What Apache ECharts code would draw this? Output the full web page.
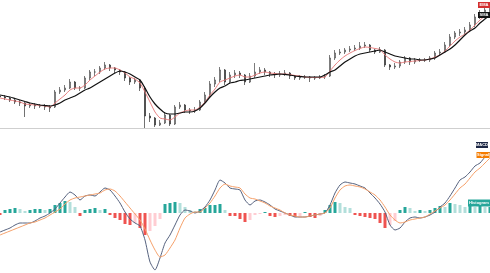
<!DOCTYPE html>
<html><head><meta charset="utf-8">
<script src="https://cdn.jsdelivr.net/npm/echarts@6/dist/echarts.min.js"></script>
<style>html,body{margin:0;padding:0;background:#fff}#c{width:490px;height:273px}</style>
</head><body><div id="c"></div>
<script>
const categories = ["1","2","3","4","5","6","7","8","9","10","11","12","13","14","15","16","17","18","19","20","21","22","23","24","25","26","27","28","29","30","31","32","33","34","35","36","37","38","39","40","41","42","43","44","45","46","47","48","49","50","51","52","53","54","55","56","57","58","59","60","61","62","63","64","65","66","67","68","69","70","71","72","73","74","75","76","77","78","79","80","81","82","83","84","85","86","87","88","89","90","91","92","93","94","95","96","97","98","99"];

// [open, close, low, high]
const candles = [
[132,131,129,134],[131,130,128,133],[130,128,126,131],[128,126,124,129],[126,125,122,128],
[125,122,111,126],[122,123,120,125],[123,122,119,125],[122,122,120,124],[122,121,118,124],
[121,120,116,123],[121,136,120,138],[136,138,134,141],[138,140,136,143],[140,146,139,149],
[146,140,138,147],[140,140,137,142],[140,150,139,152],[150,156,148,158],[156,156,152,159],
[156,160,154,162],[160,163,158,166],[163,160,157,164],[160,158,155,161],[158,156,153,159],
[156,150,147,157],[150,146,143,151],[146,148,144,150],[148,140,137,149],[140,112,100,142],
[112,110,106,115],[110,103,101,111],[103,105,102,108],[105,113,104,116],[113,104,102,114],
[104,121,103,123],[121,123,119,126],[123,118,115,124],[118,117,114,120],[117,118,115,121],
[118,126,117,128],[126,133,124,136],[133,144,131,147],[144,148,141,151],[148,158,146,161],
[158,146,143,159],[146,153,144,156],[153,155,150,158],[155,153,150,157],[153,146,143,154],
[146,152,145,155],[152,156,150,165],[156,158,154,161],[158,156,153,160],[156,154,151,157],
[154,153,150,156],[153,154,151,157],[154,155,152,158],[155,152,149,156],[152,150,148,153],
[150,151,148,153],[151,151,149,153],[151,150,146,152],[150,150,148,152],[150,151,149,153],
[151,152,149,154],[152,170,151,173],[170,175,168,178],[175,176,173,179],[176,178,174,180],
[178,179,176,182],[179,180,177,183],[180,182,178,186],[182,183,180,186],[183,178,176,184],
[178,176,174,179],[176,178,175,181],[178,163,161,179],[163,161,158,164],[161,162,159,165],
[162,166,160,168],[166,170,164,172],[170,166,163,171],[166,168,164,170],[168,168,166,170],
[168,168,166,170],[168,170,166,172],[170,175,168,177],[175,176,173,179],[176,183,175,186],
[183,191,181,194],[191,195,189,197],[195,196,192,199],[196,198,194,201],[198,203,196,206],
[203,211,201,214],[211,215,209,218],[215,218,213,221],[218,221,216,224]
];

const fastMA = [
130,129,128,127,126,124,123.5,123,122.5,122,
121,125,129,133,138,140,140,143,148,152,
156,159,160,160,158,155,151,149,145,136,
126,116,110,109,108,111,115,117,118,118,
121,126,133,139,146,148,150,152,153,151,
151,153,155,156,155,154.5,154,154,153.5,152.5,
152,151,150.5,150.5,150.5,151,157,163,168,172,
175,177.5,179.5,181,180.5,179.5,178.5,173,169,166,
165,166,166.5,167,167.5,168,169,171,173,177,
182,187,191,194,198,203,208,212,216
];

const slowMA = [
133,132,131,129.5,128,126.5,125,124,123,122.5,
122,123,125,128,130,132,135,138,140,143,
146,149,152,155,157,156,154,151,148,140,
131,124,119,115,114,114,115,116,116,117,
120,125,131,136,140,142,145,146,147.5,148,
149,150,151,152,153,153.5,154,153.5,153,152,
151.5,151,151,151,151,153,156,158,162,166,
169,172,174,175,176,177,178,176,174,172,
171,170,169,169,168,168,169,170,173,176,
179,183,188,193,197,200,205,209,213
];

const macdLine = [
-1.9,-1.7,-1.5,-1.2,-1.0,-1.0,-1.0,-0.8,-0.5,-0.3,
0.0,0.4,1.0,1.6,2.1,1.8,1.3,1.7,1.8,1.7,
2.1,2.5,2.3,1.7,1.0,0.1,-0.6,-1.0,-1.3,-2.7,
-4.9,-5.7,-4.5,-3.0,-2.2,-1.2,-0.2,0.3,0.2,0.0,
0.2,0.6,1.3,2.3,3.3,3.0,2.5,2.4,2.3,1.3,
0.8,1.2,1.3,1.1,0.8,0.4,0.2,0.0,-0.2,-0.4,
-0.4,-0.4,-0.3,-0.2,-0.1,0.0,0.8,2.0,2.8,3.1,
3.0,2.9,2.7,2.5,2.0,1.5,0.9,0.1,-1.2,-1.7,
-1.5,-0.9,-0.5,-0.4,-0.5,-0.4,-0.2,0.1,0.6,1.0,
1.7,2.5,3.3,3.6,4.1,4.7,5.0,5.6,6.1
];

const signalLine = [
-2.2,-2.0,-1.8,-1.6,-1.4,-1.2,-1.0,-0.9,-0.7,-0.5,
-0.2,0.1,0.4,0.9,1.3,1.5,1.6,1.7,1.8,1.9,
2.0,2.3,2.4,2.2,1.7,1.1,0.5,-0.1,-0.7,-1.6,
-2.7,-3.7,-4.4,-4.2,-3.5,-2.7,-1.5,-0.5,-0.1,0.1,
0.1,0.5,1.0,1.7,2.5,2.9,2.7,2.6,2.5,1.9,
1.5,1.4,1.2,1.0,0.7,0.5,0.3,0.0,-0.2,-0.3,
-0.4,-0.4,-0.3,-0.2,-0.1,0.0,0.5,1.5,2.3,2.7,
2.8,2.7,2.6,2.4,2.1,1.8,1.3,0.6,-0.2,-0.7,
-1.0,-0.9,-0.7,-0.6,-0.5,-0.4,-0.1,0.2,0.5,0.8,
1.3,1.9,2.5,2.9,3.5,4.1,4.5,5.0,5.5
];

const histogram = [
-0.2,0.3,0.4,0.5,0.4,0.2,0.3,0.4,0.4,0.3,
0.4,0.8,1.0,1.2,1.1,0.6,-0.3,0.3,0.4,0.5,
0.3,0.4,-0.2,-0.5,-0.7,-1.1,-1.2,-1.0,-1.5,-2.2,
-1.8,-1.3,-0.6,0.9,1.0,1.1,1.0,0.6,0.3,0.2,
0.4,0.5,0.8,0.8,0.9,0.3,-0.3,-0.3,-0.6,-0.9,
-0.7,-0.2,-0.1,0.1,-0.3,-0.4,-0.3,-0.2,-0.3,-0.4,
-0.3,0.1,-0.4,-0.5,-0.3,0.3,0.8,1.1,1.0,0.6,
0.5,-0.2,-0.3,-0.4,-0.5,-0.6,-1.0,-1.5,-1.2,-0.8,
0.3,0.6,0.5,0.2,0.3,0.2,0.3,0.5,0.7,0.6,
1.0,0.9,0.8,0.6,0.7,0.6,0.7,0.6,0.6
];

const labelNames = {fast: "EMA", slow: "SMA", macd: "MACD", signal: "Signal", hist: "Histogram"};

const last = categories.length - 1;
function tag(coordY, text, bg, w, h, ox, oy) {
  return {
    symbol: 'rect', symbolSize: [w, h], symbolOffset: [ox, oy], silent: true,
    itemStyle: {color: bg},
    label: {show: true, position: 'inside', formatter: text, color: '#fff', fontSize: 4, fontFamily: 'Liberation Sans', fontWeight: 'bold'},
    data: [{coord: [last, coordY]}]
  };
}

const chart = echarts.init(document.getElementById('c'), null, {renderer: 'canvas'});
chart.setOption({
  animation: false,
  backgroundColor: '#ffffff',
  grid: [
    {left: 0, right: 0, top: 0, height: 128},
    {left: 0, right: 0, top: 135, bottom: 0}
  ],
  xAxis: [
    {type: 'category', gridIndex: 0, data: categories, boundaryGap: false,
     axisLine: {show: true, lineStyle: {color: '#cfcfcf', width: 1}}, axisTick: {show: false}, axisLabel: {show: false}, splitLine: {show: false}},
    {type: 'category', gridIndex: 1, data: categories, boundaryGap: false,
     axisLine: {show: false}, axisTick: {show: false}, axisLabel: {show: false}, splitLine: {show: false}}
  ],
  yAxis: [
    {type: 'value', gridIndex: 0, min: 100, max: 228, show: false, splitLine: {show: false}},
    {type: 'value', gridIndex: 1, min: -6, max: 7.8, show: false, splitLine: {show: false}}
  ],
  series: [
    {type: 'candlestick', xAxisIndex: 0, yAxisIndex: 0, data: candles, barWidth: 2,
     itemStyle: {color: '#ffffff', color0: '#333333', borderColor: '#444444', borderColor0: '#333333', borderWidth: 0.7}},
    {type: 'line', xAxisIndex: 0, yAxisIndex: 0, data: fastMA, symbol: 'none', smooth: 0.2,
     lineStyle: {color: '#e57373', width: 0.9},
     markPoint: tag(fastMA[last], labelNames.fast, '#d32f2f', 12, 6, -6, -7)},
    {type: 'line', xAxisIndex: 0, yAxisIndex: 0, data: slowMA, symbol: 'none', smooth: 0.2,
     lineStyle: {color: '#111111', width: 1.2},
     markPoint: tag(slowMA[last], labelNames.slow, '#111111', 12, 6, -6, 0)},
    {type: 'bar', xAxisIndex: 1, yAxisIndex: 1, data: histogram, barWidth: '60%',
     itemStyle: {color: function(p) {
       const v = p.value, prev = p.dataIndex > 0 ? histogram[p.dataIndex - 1] : v;
       if (v >= 0) return v >= prev ? '#26a69a' : '#b2dfdb';
       return v <= prev ? '#ef5350' : '#ffcdd2';
     }},
     markPoint: tag(histogram[last], labelNames.hist, '#26a69a', 22, 7, -11, -4)},
    {type: 'line', xAxisIndex: 1, yAxisIndex: 1, data: macdLine, symbol: 'none', smooth: 0.2,
     lineStyle: {color: '#56627e', width: 1},
     markPoint: tag(macdLine[last], labelNames.macd, '#1c2644', 12, 6, -8, -7)},
    {type: 'line', xAxisIndex: 1, yAxisIndex: 1, data: signalLine, symbol: 'none', smooth: 0.2,
     lineStyle: {color: '#f5a06a', width: 1},
     markPoint: tag(signalLine[last], labelNames.signal, '#f57c00', 13, 6, -7, -3)}
  ]
});
</script>
</body></html>
